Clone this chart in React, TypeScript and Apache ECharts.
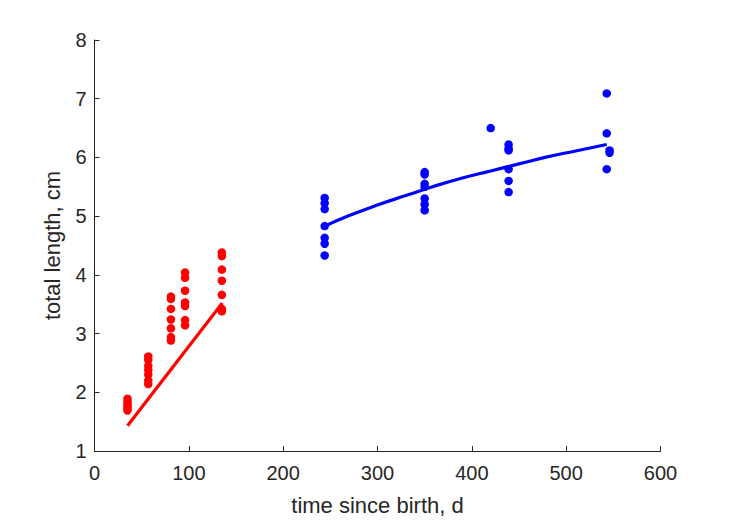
import React, { useEffect, useRef } from "react";
import * as echarts from "echarts";

// Juvenile (red) observations: age in days, total length in cm
const juvenileAge = [
  35, 35, 35, 35, 35, 35,
  57, 57, 57, 57, 57, 57, 57,
  81, 81, 81, 81, 81, 81, 81,
  96, 96, 96, 96, 96, 96, 96,
  135, 135, 135, 135, 135, 135, 135,
];
const juvenileLength = [
  1.69, 1.73, 1.77, 1.8, 1.84, 1.89,
  2.14, 2.2, 2.3, 2.38, 2.45, 2.55, 2.61,
  2.88, 2.94, 3.09, 3.24, 3.42, 3.59, 3.63,
  3.14, 3.23, 3.47, 3.53, 3.73, 3.95, 4.04,
  3.38, 3.42, 3.66, 3.9, 4.09, 4.32, 4.38,
];

// Adult (blue) observations
const adultAge = [
  244, 244, 244, 244, 244, 244, 244,
  350, 350, 350, 350, 350, 350, 350,
  420,
  439, 439, 439, 439, 439, 439,
  543, 546, 546, 543, 543,
];
const adultLength = [
  4.33, 4.53, 4.63, 4.83, 5.12, 5.22, 5.31,
  5.1, 5.2, 5.3, 5.5, 5.55, 5.71, 5.75,
  6.5,
  5.41, 5.6, 5.8, 6.12, 6.15, 6.22,
  5.8, 6.08, 6.12, 6.41, 7.09,
];

// Fitted curves
const juvenileFitAge = [35, 135.5];
const juvenileFitLength = [1.43, 3.52];
const adultFitAge = [244, 270, 300, 330, 360, 390, 420, 450, 480, 510, 543];
const adultFitLength = [4.83, 5.01, 5.19, 5.35, 5.51, 5.65, 5.77, 5.89, 6.01, 6.11, 6.22];

const xTicks = [0, 600, 100];
const yTicks = [1, 8, 1];

const zip = (a: number[], b: number[]) => a.map((v, i) => [v, b[i]]);

const FONT = "'Liberation Sans', Arial, Helvetica, sans-serif";
const INK = "#262626";

export default function App() {
  const ref = useRef<HTMLDivElement>(null);
  useEffect(() => {
    document.body.style.margin = "0";
    if (!ref.current) return;
    const chart = echarts.init(ref.current, undefined, { renderer: "svg" });
    const axisCommon = {
      axisLine: { show: true, lineStyle: { color: INK, width: 1 } },
      axisTick: { show: true, inside: true, length: 5, lineStyle: { color: INK } },
      splitLine: { show: false },
      nameLocation: "middle" as const,
      nameTextStyle: { fontFamily: FONT, fontSize: 22, color: INK },
    };
    chart.setOption({
      animation: false,
      backgroundColor: "#ffffff",
      grid: { left: 94.5, right: 68.5, top: 40, bottom: 68, containLabel: false },
      xAxis: {
        type: "value",
        min: xTicks[0],
        max: xTicks[1],
        interval: xTicks[2],
        name: "time since birth, d",
        nameGap: 43,
        ...axisCommon,
        axisLabel: { fontFamily: FONT, fontSize: 20, color: INK, margin: 12 },
      },
      yAxis: {
        type: "value",
        min: yTicks[0],
        max: yTicks[1],
        interval: yTicks[2],
        name: "total length, cm",
        nameGap: 31,
        ...axisCommon,
        axisLabel: { fontFamily: FONT, fontSize: 20, color: INK, margin: 8 },
      },
      series: [
        {
          type: "scatter",
          data: zip(juvenileAge, juvenileLength),
          symbol: "circle",
          symbolSize: 8.5,
          itemStyle: { color: "#ff0000", opacity: 1 },
        },
        {
          type: "scatter",
          data: zip(adultAge, adultLength),
          symbol: "circle",
          symbolSize: 8.5,
          itemStyle: { color: "#0000ff", opacity: 1 },
        },
        {
          type: "line",
          data: zip(juvenileFitAge, juvenileFitLength),
          showSymbol: false,
          symbol: "none",
          lineStyle: { color: "#ff0000", width: 3.2 },
        },
        {
          type: "line",
          data: zip(adultFitAge, adultFitLength),
          showSymbol: false,
          symbol: "none",
          smooth: true,
          lineStyle: { color: "#0000ff", width: 3.2 },
        },
      ],
    });
    return () => chart.dispose();
  }, []);
  return <div ref={ref} style={{ width: 729, height: 521 }} />;
}
